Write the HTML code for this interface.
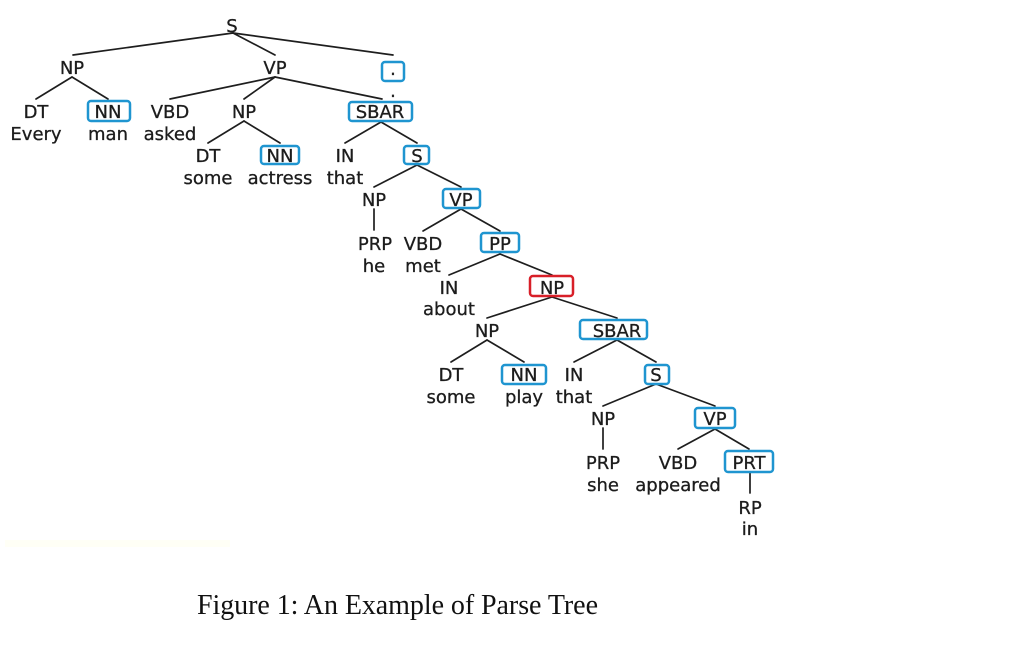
<!DOCTYPE html>
<html lang="en">
<head>
<meta charset="utf-8">
<title>Parse Tree Figure</title>
<style>
html,body{margin:0;padding:0;background:#fff;width:1022px;height:648px;overflow:hidden}
svg{display:block}
.t text{font-family:"DejaVu Sans","Liberation Sans",sans-serif;font-size:18px;fill:#1c1c1c;stroke:#1c1c1c;stroke-width:.3;text-anchor:middle}
.e line{stroke:#1e1e1e;stroke-width:1.7;stroke-linecap:round}
.b rect{fill:none;stroke:#1f95d0;stroke-width:2.5}
.b rect.red{stroke:#d81f28}
.tree{filter:blur(.3px)}
</style>
</head>
<body>
<svg width="1022" height="648" viewBox="0 0 1022 648">
<rect x="5" y="540" width="225" height="7" fill="#fffff6"/>
<g class="tree">
<g class="e">
<line x1="233" y1="33" x2="73" y2="55"/>
<line x1="233" y1="33" x2="275" y2="55"/>
<line x1="233" y1="33" x2="393" y2="55"/>
<line x1="72" y1="77" x2="36" y2="99"/>
<line x1="72" y1="77" x2="108" y2="99"/>
<line x1="275" y1="77" x2="170" y2="99"/>
<line x1="275" y1="77" x2="244" y2="99"/>
<line x1="275" y1="77" x2="382" y2="99"/>
<line x1="244" y1="121" x2="208" y2="143"/>
<line x1="244" y1="121" x2="280" y2="143"/>
<line x1="381" y1="122" x2="345" y2="143"/>
<line x1="381" y1="122" x2="417" y2="143"/>
<line x1="417" y1="165" x2="374" y2="187"/>
<line x1="417" y1="165" x2="461" y2="187"/>
<line x1="374" y1="209" x2="374" y2="230"/>
<line x1="461" y1="209" x2="423" y2="231"/>
<line x1="461" y1="209" x2="500" y2="231"/>
<line x1="500" y1="254" x2="449" y2="275"/>
<line x1="500" y1="254" x2="552" y2="275"/>
<line x1="552" y1="297" x2="487" y2="318"/>
<line x1="552" y1="297" x2="617" y2="318"/>
<line x1="487" y1="340" x2="451" y2="362"/>
<line x1="487" y1="340" x2="524" y2="362"/>
<line x1="617" y1="340" x2="574" y2="362"/>
<line x1="617" y1="340" x2="656" y2="362"/>
<line x1="656" y1="384" x2="603" y2="406"/>
<line x1="656" y1="384" x2="715" y2="406"/>
<line x1="603" y1="428" x2="603" y2="449"/>
<line x1="715" y1="429" x2="678" y2="449"/>
<line x1="715" y1="429" x2="749" y2="449"/>
<line x1="750" y1="472" x2="750" y2="493"/>
</g>
<g class="b">
<rect x="382" y="62" width="22" height="19" rx="3"/>
<rect x="88" y="101" width="42" height="20" rx="3"/>
<rect x="349" y="102" width="63" height="19" rx="3"/>
<rect x="261" y="146" width="38" height="18" rx="3"/>
<rect x="404" y="146" width="25" height="18" rx="3"/>
<rect x="443" y="189" width="37" height="19" rx="3"/>
<rect x="481" y="233" width="38" height="19" rx="3"/>
<rect class="red" x="530" y="276" width="43" height="20" rx="3"/>
<rect x="580" y="320" width="67" height="19" rx="3"/>
<rect x="502" y="365" width="44" height="19" rx="3"/>
<rect x="645" y="365" width="24" height="19" rx="3"/>
<rect x="695" y="408" width="40" height="20" rx="3"/>
<rect x="725" y="451" width="48" height="21" rx="3"/>
</g>
<g class="t">
<text x="232" y="32">S</text>
<text x="72" y="74">NP</text>
<text x="275" y="74">VP</text>
<text x="393" y="75">.</text>
<text x="393" y="97">.</text>
<text x="36" y="118">DT</text>
<text x="36" y="140">Every</text>
<text x="108" y="118">NN</text>
<text x="108" y="140">man</text>
<text x="170" y="118">VBD</text>
<text x="170" y="140">asked</text>
<text x="244" y="118">NP</text>
<text x="380" y="118">SBAR</text>
<text x="208" y="162">DT</text>
<text x="208" y="184">some</text>
<text x="280" y="162">NN</text>
<text x="280" y="184">actress</text>
<text x="345" y="162">IN</text>
<text x="345" y="184">that</text>
<text x="417" y="162">S</text>
<text x="374" y="206">NP</text>
<text x="461" y="206">VP</text>
<text x="375" y="250">PRP</text>
<text x="374" y="272">he</text>
<text x="423" y="250">VBD</text>
<text x="423" y="272">met</text>
<text x="500" y="250">PP</text>
<text x="449" y="294">IN</text>
<text x="449" y="315">about</text>
<text x="552" y="294">NP</text>
<text x="487" y="337">NP</text>
<text x="617" y="337">SBAR</text>
<text x="451" y="381">DT</text>
<text x="451" y="403">some</text>
<text x="524" y="381">NN</text>
<text x="524" y="403">play</text>
<text x="574" y="381">IN</text>
<text x="574" y="403">that</text>
<text x="656" y="381">S</text>
<text x="603" y="425">NP</text>
<text x="715" y="425">VP</text>
<text x="603" y="469">PRP</text>
<text x="603" y="491">she</text>
<text x="678" y="469">VBD</text>
<text x="678" y="491">appeared</text>
<text x="749" y="469">PRT</text>
<text x="750" y="514">RP</text>
<text x="750" y="535">in</text>
</g>
</g>
<text x="197" y="614" font-family="'Liberation Serif',serif" font-size="28" fill="#111" textLength="401" lengthAdjust="spacing">Figure 1: An Example of Parse Tree</text>
</svg>
</body>
</html>
